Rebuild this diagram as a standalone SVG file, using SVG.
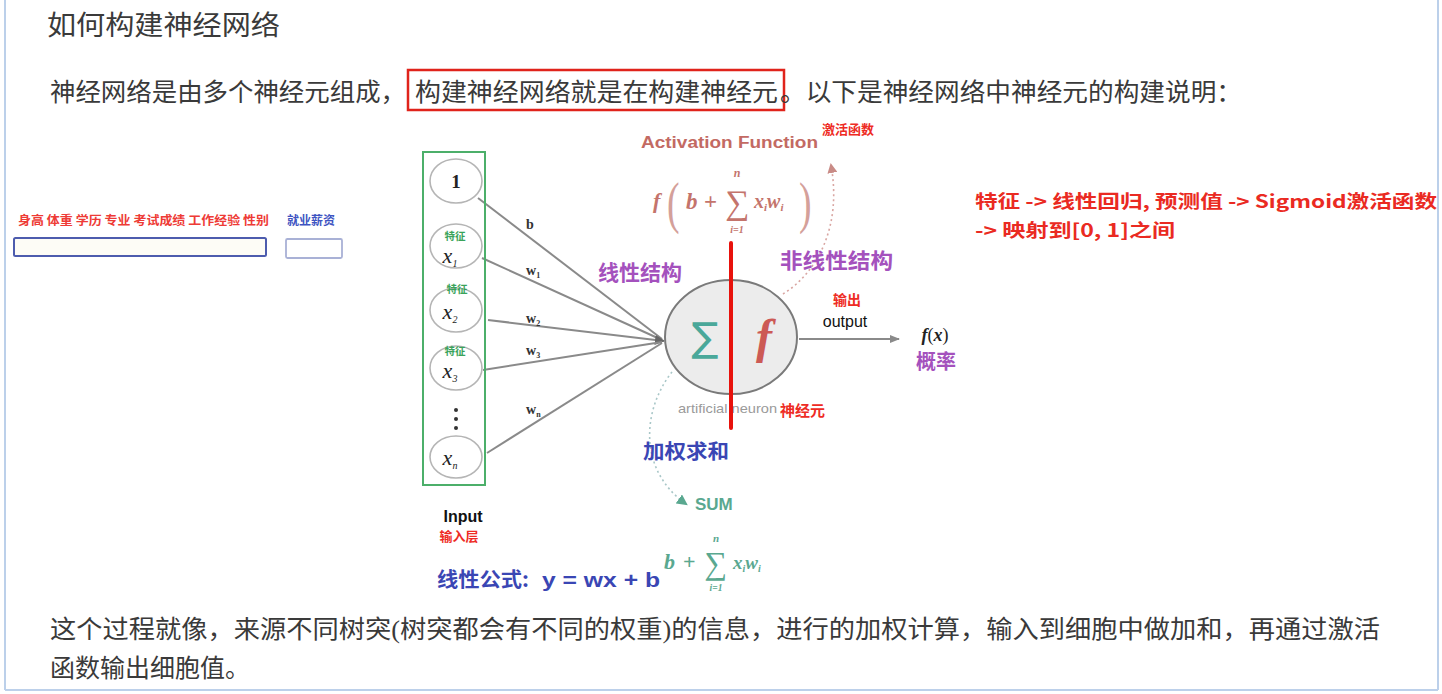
<svg xmlns="http://www.w3.org/2000/svg" width="1442" height="694" viewBox="0 0 1442 694">
<defs>
<style>
.body{font-family:"Liberation Serif","Noto Sans CJK SC",serif;fill:#3a3a3a;}
.cjkb{font-family:"Noto Sans CJK SC","Liberation Sans",sans-serif;font-weight:bold;}
.sans{font-family:"Liberation Sans","Noto Sans CJK SC",sans-serif;}
.math{font-family:"Liberation Serif","DejaVu Serif",serif;font-style:italic;font-weight:bold;}
.mathn{font-family:"Liberation Serif","DejaVu Serif",serif;}
.inode{fill:#ffffff;stroke:#b5b5b5;stroke-width:1.6;}
.wire{stroke:#8a8a8a;stroke-width:2;fill:none;}
.feat{font-family:"Noto Sans CJK SC",sans-serif;font-weight:bold;font-size:10.5px;fill:#3aa35a;}
.xv{font-family:"Liberation Serif",serif;font-style:italic;font-size:22px;fill:#222;}
.wl{font-family:"Liberation Serif",serif;font-weight:bold;font-size:14px;fill:#333;}
</style>
<marker id="arrOut" viewBox="0 0 10 10" refX="9" refY="5" markerWidth="10" markerHeight="10" orient="auto" markerUnits="userSpaceOnUse">
<path d="M0,1 L10,5 L0,9 z" fill="#8a8a8a"/>
</marker>
<marker id="arrConv" viewBox="0 0 10 10" refX="9" refY="5" markerWidth="10" markerHeight="10" orient="auto" markerUnits="userSpaceOnUse">
<path d="M0,0 L10,5 L0,10 z" fill="#666"/>
</marker>
<marker id="arrPink" viewBox="0 0 10 10" refX="8" refY="5" markerWidth="10" markerHeight="10" orient="auto" markerUnits="userSpaceOnUse">
<path d="M0,0 L10,5 L0,10 z" fill="#c98b86"/>
</marker>
<marker id="arrTeal" viewBox="0 0 10 10" refX="8" refY="5" markerWidth="11" markerHeight="11" orient="auto" markerUnits="userSpaceOnUse">
<path d="M0,0 L10,5 L0,10 z" fill="#5aa890"/>
</marker>
</defs>

<rect x="0" y="0" width="1442" height="694" fill="#ffffff"/>
<!-- page frame -->
<g id="frame" fill="none" stroke="#bcd0ea" stroke-width="2">
<line x1="5" y1="0" x2="5" y2="690"/>
<line x1="1438" y1="0" x2="1438" y2="690"/>
<line x1="5" y1="690" x2="1438" y2="690"/>
</g>

<!-- header text -->
<g id="title">
<text class="body" x="47" y="35" font-size="27" textLength="233" lengthAdjust="spacingAndGlyphs">如何构建神经网络</text>
</g>
<g id="intro">
<text class="body" x="50" y="101" font-size="25" textLength="356" lengthAdjust="spacingAndGlyphs">神经网络是由多个神经元组成，</text>
<rect x="408" y="70" width="376" height="40" fill="none" stroke="#e0231b" stroke-width="2.5"/>
<text class="body" x="415" y="101" font-size="25" textLength="363" lengthAdjust="spacingAndGlyphs">构建神经网络就是在构建神经元</text>
<text class="body" x="780" y="101" font-size="25" textLength="462" lengthAdjust="spacingAndGlyphs">。以下是神经网络中神经元的构建说明：</text>
</g>

<!-- left feature bar -->
<g id="features">
<text class="cjkb" x="18" y="225" font-size="12" fill="#ee3b36" textLength="251" lengthAdjust="spacingAndGlyphs">身高 体重 学历 专业 考试成绩 工作经验 性别</text>
<rect x="14" y="238" width="252" height="18" rx="1.5" fill="#fdfcf6" stroke="#4d5cae" stroke-width="2"/>
</g>
<g id="target">
<text class="cjkb" x="287" y="225" font-size="12" fill="#3e54c2" textLength="48" lengthAdjust="spacingAndGlyphs">就业薪资</text>
<rect x="286" y="239" width="56" height="19" rx="1.5" fill="#ffffff" stroke="#a9b1d6" stroke-width="1.8"/>
</g>

<!-- connectors -->
<g id="connectors">
<line class="wire" x1="478" y1="198" x2="662" y2="339"/>
<line class="wire" x1="482" y1="258" x2="662" y2="340"/>
<line class="wire" x1="488" y1="320" x2="664" y2="341" marker-end="url(#arrConv)"/>
<line class="wire" x1="483" y1="370" x2="662" y2="342"/>
<line class="wire" x1="487" y1="453" x2="662" y2="343"/>
<line class="wire" x1="799" y1="339" x2="899" y2="339" marker-end="url(#arrOut)"/>
<path d="M783,294 C818,272 842,226 831,165" fill="none" stroke="#d9a6a2" stroke-width="1.6" stroke-dasharray="2,3" marker-end="url(#arrPink)"/>
<path d="M672,372 C642,410 638,470 686,504" fill="none" stroke="#a9c7c8" stroke-width="1.6" stroke-dasharray="2,3" marker-end="url(#arrTeal)"/>
</g>

<!-- weight labels -->
<g id="weights">
<text class="wl" x="526" y="229">b</text>
<text class="wl" x="526" y="275">w<tspan font-size="8" dy="3">1</tspan></text>
<text class="wl" x="526" y="323">w<tspan font-size="8" dy="3">2</tspan></text>
<text class="wl" x="526" y="355">w<tspan font-size="8" dy="3">3</tspan></text>
<text class="wl" x="526" y="414">w<tspan font-size="8" dy="3">n</tspan></text>
</g>

<!-- input layer -->
<g id="input-layer">
<rect x="423" y="152" width="62" height="333" fill="none" stroke="#4caf6a" stroke-width="2"/>
</g>
<g id="node-bias">
<ellipse class="inode" cx="456" cy="181" rx="26" ry="22"/>
<text x="456" y="188" text-anchor="middle" font-family="Liberation Serif, serif" font-weight="bold" font-size="19" fill="#222">1</text>
</g>
<g id="node-x1">
<ellipse class="inode" cx="456" cy="246" rx="26" ry="22"/>
<text class="feat" x="455" y="240" text-anchor="middle">特征</text>
<text class="xv" x="450" y="263" text-anchor="middle">x<tspan font-size="10" dy="4">1</tspan></text>
</g>
<g id="node-x2">
<ellipse class="inode" cx="456" cy="310" rx="26" ry="22"/>
<text class="feat" x="457" y="293" text-anchor="middle">特征</text>
<text class="xv" x="450" y="319" text-anchor="middle">x<tspan font-size="10" dy="4">2</tspan></text>
</g>
<g id="node-x3">
<ellipse class="inode" cx="456" cy="368" rx="26" ry="22"/>
<text class="feat" x="455" y="355" text-anchor="middle">特征</text>
<text class="xv" x="450" y="378" text-anchor="middle">x<tspan font-size="10" dy="4">3</tspan></text>
</g>
<g id="dots" fill="#333">
<circle cx="456" cy="410" r="2"/>
<circle cx="456" cy="419" r="2"/>
<circle cx="456" cy="428" r="2"/>
</g>
<g id="node-xn">
<ellipse class="inode" cx="456" cy="457" rx="26" ry="21"/>
<text class="xv" x="450" y="465" text-anchor="middle">x<tspan font-size="10" dy="4">n</tspan></text>
</g>
<g id="input-label">
<text class="sans" x="463" y="522" text-anchor="middle" font-weight="bold" font-size="16" fill="#111">Input</text>
<text class="cjkb" x="459" y="541" text-anchor="middle" font-size="13" fill="#ee2b24">输入层</text>
</g>

<!-- neuron -->
<g id="neuron">
<ellipse cx="731" cy="337" rx="66" ry="57" fill="#ececec" stroke="#7a7a7a" stroke-width="2"/>
<text x="705" y="351" text-anchor="middle" font-family="DejaVu Sans, sans-serif" font-size="40" fill="#4aa89a">∑</text>
<text x="764" y="353" text-anchor="middle" font-family="Liberation Serif, serif" font-style="italic" font-weight="bold" font-size="48" fill="#cc5a55">f</text>
<text class="sans" x="678" y="413" font-size="13" fill="#9a9a9a" textLength="99" lengthAdjust="spacingAndGlyphs">artificial neuron</text>
<line x1="731" y1="243" x2="731" y2="428" stroke="#e8120c" stroke-width="4" stroke-linecap="round"/>
<text class="cjkb" x="780" y="416" font-size="15" fill="#ee2b24">神经元</text>
</g>

<g id="linear-label">
<text class="cjkb" x="598" y="280" font-size="21" fill="#a451bd">线性结构</text>
</g>
<g id="nonlinear-label">
<text class="cjkb" x="780" y="268" font-size="21" fill="#a451bd" textLength="113" lengthAdjust="spacingAndGlyphs">非线性结构</text>
</g>

<!-- activation function -->
<g id="activation">
<text class="sans" x="641" y="148" font-weight="bold" font-size="16" fill="#c36a63" textLength="177" lengthAdjust="spacingAndGlyphs">Activation Function</text>
<text class="cjkb" x="822" y="134" font-size="13" fill="#ee2b24">激活函数</text>
<g fill="#c4746c">
<text class="math" x="653" y="208" font-size="22">f</text>
<text class="mathn" x="667" y="222" font-size="58" fill="#d4a09a" transform="translate(667 0) scale(0.65 1) translate(-667 0)">(</text>
<text class="math" x="686" y="209" font-size="23">b</text>
<text class="mathn" x="704" y="209" font-size="23" font-weight="bold">+</text>
<text class="mathn" x="737" y="214" font-size="34" text-anchor="middle">∑</text>
<text class="math" x="737" y="177" font-size="12" text-anchor="middle">n</text>
<text class="math" x="737" y="233" font-size="10" text-anchor="middle">i=1</text>
<text class="math" x="754" y="208" font-size="20">x<tspan font-size="11" dy="3">i</tspan><tspan dy="-3">w</tspan><tspan font-size="11" dy="3">i</tspan></text>
<text class="mathn" x="799" y="222" font-size="58" fill="#d4a09a" transform="translate(799 0) scale(0.65 1) translate(-799 0)">)</text>
</g>
</g>

<!-- output -->
<g id="output">
<text class="cjkb" x="847" y="305" text-anchor="middle" font-size="14" fill="#ee2b24">输出</text>
<text class="sans" x="845" y="327" text-anchor="middle" font-size="16" fill="#111">output</text>
<text class="math" x="935" y="341" text-anchor="middle" font-size="18" fill="#222">f<tspan font-weight="normal" font-style="normal">(</tspan>x<tspan font-weight="normal" font-style="normal">)</tspan></text>
<text class="cjkb" x="936" y="369" text-anchor="middle" font-size="20" fill="#a451bd">概率</text>
</g>

<!-- weighted sum -->
<g id="weighted-sum">
<text class="cjkb" x="643" y="459" font-size="20" fill="#3a46b4" textLength="86" lengthAdjust="spacingAndGlyphs">加权求和</text>
<text class="sans" x="695" y="510" font-size="17" font-weight="bold" fill="#5aa890">SUM</text>
</g>

<!-- linear formula -->
<g id="linear-formula">
<text class="cjkb" x="437" y="587" font-size="20" fill="#3a46b4" textLength="92" lengthAdjust="spacingAndGlyphs">线性公式:</text>
<text class="sans" x="542" y="587" font-size="21" font-weight="bold" fill="#3a46b4" textLength="118" lengthAdjust="spacingAndGlyphs">y = wx + b</text>
<g fill="#5aa890">
<text class="math" x="664" y="569" font-size="22">b</text>
<text class="mathn" x="683" y="569" font-size="22" font-weight="bold">+</text>
<text class="mathn" x="716" y="574" font-size="32" text-anchor="middle">∑</text>
<text class="math" x="716" y="542" font-size="11" text-anchor="middle">n</text>
<text class="math" x="716" y="591" font-size="9.5" text-anchor="middle">i=1</text>
<text class="math" x="733" y="569" font-size="19">x<tspan font-size="10" dy="3">i</tspan><tspan dy="-3">w</tspan><tspan font-size="10" dy="3">i</tspan></text>
</g>
</g>

<!-- right note -->
<g id="note">
<text class="cjkb" x="975" y="208" font-size="18" fill="#ea2a22" textLength="462" lengthAdjust="spacingAndGlyphs">特征 -&gt; 线性回归, 预测值 -&gt; Sigmoid激活函数</text>
<text class="cjkb" x="975" y="237" font-size="18" fill="#ea2a22" textLength="200" lengthAdjust="spacingAndGlyphs">-&gt; 映射到[0, 1]之间</text>
</g>

<!-- bottom paragraph -->
<g id="footer">
<text class="body" x="50" y="638" font-size="25" textLength="1330" lengthAdjust="spacingAndGlyphs">这个过程就像，来源不同树突(树突都会有不同的权重)的信息，进行的加权计算，输入到细胞中做加和，再通过激活</text>
<text class="body" x="50" y="677" font-size="25" textLength="200" lengthAdjust="spacingAndGlyphs">函数输出细胞值。</text>
</g>
</svg>
